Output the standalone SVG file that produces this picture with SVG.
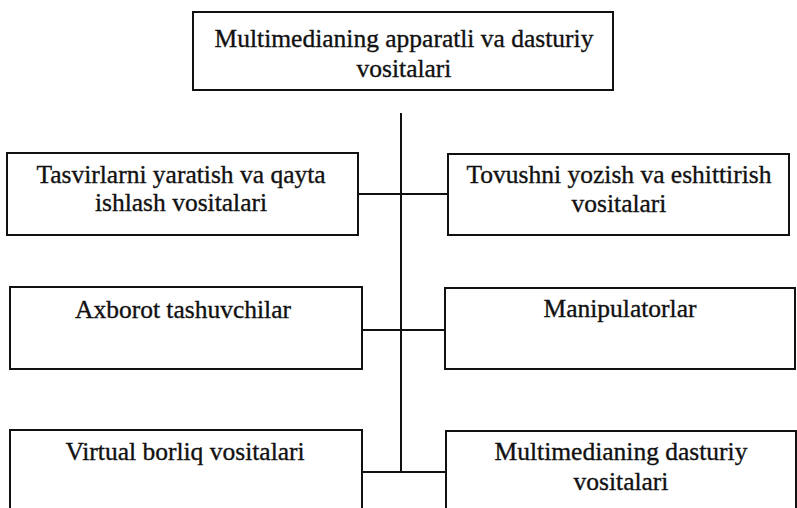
<svg xmlns="http://www.w3.org/2000/svg" width="797" height="508" viewBox="0 0 797 508">
<style>
.box{fill:none;stroke:#111;stroke-width:2}
.ln{stroke:#111;stroke-width:2;fill:none}
.t{font-family:"Liberation Serif","Times New Roman",serif;font-size:25.5px;fill:#111;text-anchor:middle;stroke:#111;stroke-width:0.35}
</style>
<rect x="0" y="0" width="797" height="508" fill="#fff"/>
<g id="connectors">
<line class="ln" x1="401" y1="113" x2="401" y2="472"/>
<line class="ln" x1="358" y1="194" x2="448" y2="194"/>
<line class="ln" x1="362" y1="330" x2="445" y2="330"/>
<line class="ln" x1="362" y1="472" x2="446" y2="472"/>
</g>
<g id="root">
<rect class="box" x="193" y="12" width="420" height="78"/>
<text class="t" x="404" y="47">Multimedianing apparatli va dasturiy</text>
<text class="t" x="404" y="77">vositalari</text>
</g>
<g id="tasvir">
<rect class="box" x="7" y="153" width="351" height="82"/>
<text class="t" x="181" y="183">Tasvirlarni yaratish va qayta</text>
<text class="t" x="181" y="211">ishlash vositalari</text>
</g>
<g id="tovush">
<rect class="box" x="448" y="154" width="341" height="81"/>
<text class="t" x="619" y="183">Tovushni yozish va eshittirish</text>
<text class="t" x="619" y="212">vositalari</text>
</g>
<g id="axborot">
<rect class="box" x="10" y="287" width="352" height="82"/>
<text class="t" x="183" y="318">Axborot tashuvchilar</text>
</g>
<g id="manipulator">
<rect class="box" x="445" y="288" width="350" height="81"/>
<text class="t" x="620" y="317">Manipulatorlar</text>
</g>
<g id="virtual">
<rect class="box" x="10" y="430" width="352" height="100"/>
<text class="t" x="185" y="460">Virtual borliq vositalari</text>
</g>
<g id="dasturiy">
<rect class="box" x="446" y="431" width="350" height="100"/>
<text class="t" x="621" y="460">Multimedianing dasturiy</text>
<text class="t" x="621" y="490">vositalari</text>
</g>
</svg>
